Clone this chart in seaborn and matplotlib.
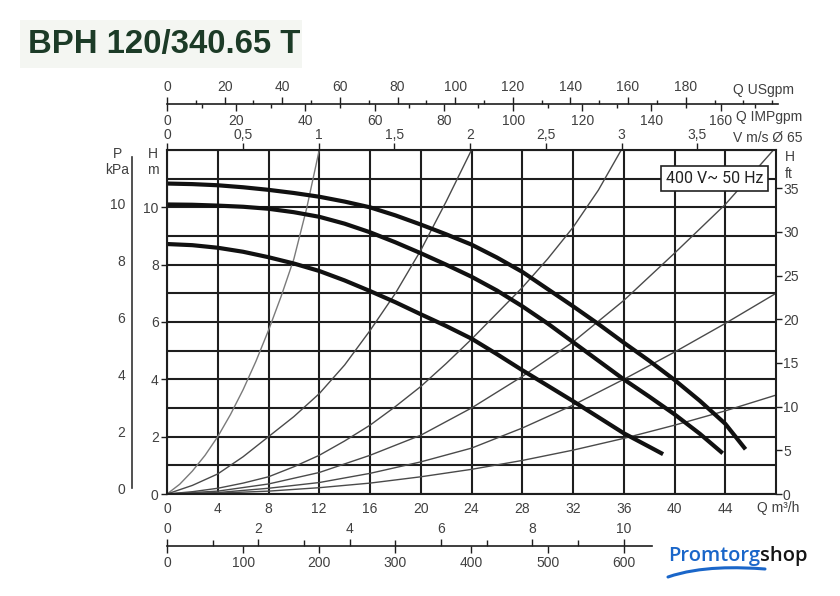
import matplotlib
matplotlib.use("Agg")
import matplotlib.pyplot as plt
import numpy as np
import pandas as pd
import seaborn as sns
from matplotlib import font_manager as fm
from matplotlib.ticker import MultipleLocator, FixedLocator, FuncFormatter
from matplotlib.path import Path
from matplotlib.patches import PathPatch, Rectangle

# ---------------- data ----------------
# pump curves, Q in m3/h, H in m
q_max = [0, 2, 4, 6, 8, 10, 12, 14, 16, 18, 20, 22, 24, 26, 28, 30, 32, 34, 36, 38, 40, 42, 44, 45.6]
h_max = [10.83, 10.81, 10.77, 10.7, 10.61, 10.5, 10.37, 10.2, 10.0, 9.72, 9.4, 9.06, 8.7, 8.25,
         7.75, 7.15, 6.55, 5.93, 5.28, 4.65, 3.98, 3.25, 2.45, 1.56]
q_mid = [0, 2, 4, 6, 8, 10, 12, 14, 16, 18, 20, 22, 24, 26, 28, 30, 32, 34, 36, 38, 40, 42, 43.8]
h_mid = [10.1, 10.09, 10.06, 10.02, 9.95, 9.83, 9.67, 9.43, 9.13, 8.78, 8.4, 8.0, 7.58, 7.1,
         6.55, 5.95, 5.3, 4.65, 4.0, 3.4, 2.78, 2.1, 1.42]
q_min = [0, 2, 4, 6, 8, 10, 12, 14, 16, 18, 20, 22, 24, 26, 28, 30, 32, 34, 36, 38, 39.1]
h_min = [8.72, 8.68, 8.59, 8.45, 8.26, 8.04, 7.78, 7.45, 7.08, 6.69, 6.27, 5.86, 5.42, 4.88,
         4.32, 3.78, 3.24, 2.68, 2.12, 1.65, 1.39]

# system (velocity) curves
sys1_q = [0, 1, 2, 3, 4, 5, 6, 7, 8, 9, 10, 11, 12]
sys1_h = [0, 0.34, 0.8, 1.35, 2.0, 2.77, 3.64, 4.62, 5.71, 6.9, 8.2, 9.95, 12.0]
sys2_q = [0, 2, 4, 6, 8, 10, 12, 14, 16, 18, 20, 22, 24]
sys2_h = [0, 0.3, 0.7, 1.3, 2.0, 2.7, 3.5, 4.5, 5.7, 7.0, 8.5, 10.2, 12.0]
sys3_q = [0, 2, 4, 6, 8, 10, 12, 14, 16, 18, 20, 22, 24, 26, 28, 30, 32, 34, 35.8]
sys3_h = [0, 0.08, 0.2, 0.38, 0.6, 0.95, 1.35, 1.85, 2.4, 3.05, 3.75, 4.55, 5.4, 6.3, 7.2,
          8.2, 9.3, 10.6, 12.0]
sys4_q = [0, 4, 8, 12, 16, 20, 24, 28, 32, 36, 40, 44, 47.8]
sys4_h = [0, 0.1, 0.35, 0.75, 1.35, 2.05, 3.0, 4.1, 5.3, 6.75, 8.4, 10.1, 12.0]
sys5_q = [0, 4, 8, 12, 16, 20, 24, 28, 32, 36, 40, 44, 48]
sys5_h = [0, 0.05, 0.2, 0.4, 0.72, 1.12, 1.6, 2.3, 3.1, 4.0, 4.95, 5.95, 7.0]
sys6_q = [0, 4, 8, 12, 16, 20, 24, 28, 32, 36, 40, 44, 48]
sys6_h = [0, 0.03, 0.1, 0.22, 0.38, 0.6, 0.86, 1.17, 1.53, 1.94, 2.4, 2.9, 3.45]

# axis ticks / labels
q_ticks = [0, 4, 8, 12, 16, 20, 24, 28, 32, 36, 40, 44]
h_ticks = [0, 2, 4, 6, 8, 10]
ft_ticks = [0, 5, 10, 15, 20, 25, 30, 35]
p_ticks = [0, 2, 4, 6, 8, 10]
v_ticks = [0, 0.5, 1, 1.5, 2, 2.5, 3, 3.5]
us_ticks = [0, 20, 40, 60, 80, 100, 120, 140, 160, 180]
imp_ticks = [0, 20, 40, 60, 80, 100, 120, 140, 160]
ls_ticks = [0, 2, 4, 6, 8, 10]
lmin_ticks = [0, 100, 200, 300, 400, 500, 600]
title = "BPH 120/340.65 T"
legend_text = "400 V~ 50 Hz"

# unit conversions
M3H_PER_MS = 11.946      # m3/h per m/s for DN65
USGPM = 4.4029           # USgpm per m3/h
IMPGPM = 3.6662          # IMPgpm per m3/h
LS = 1 / 3.6             # l/s per m3/h
LMIN = 1000 / 60         # l/min per m3/h
FT = 3.2808              # ft per m

# ---------------- styling ----------------
sns.set_style("white")
plt.rcParams['font.family'] = ['Liberation Sans', 'DejaVu Sans']
TXT = '#404040'
GRID = '#1e1e1e'

W, H = 840, 596
fig = plt.figure(figsize=(8.4, 5.96), dpi=100)
fig.patch.set_facecolor('white')
renderer = fig.canvas.get_renderer()


def fx(px):
    return px / W


def fy(py):
    return 1 - py / H


# pick the narrowest available font for condensed texts
names = {f.name for f in fm.fontManager.ttflist}
cands = []
if 'Liberation Sans Narrow' in names:
    cands.append(dict(family='Liberation Sans Narrow'))
if any(f.name == 'DejaVu Sans' and f.stretch in ('condensed', 'semi-condensed')
       for f in fm.fontManager.ttflist):
    cands.append(dict(family='DejaVu Sans', fontstretch='condensed'))
cands += [dict(family='Roboto'), dict(family='Liberation Sans')]


def width_of(s, size, weight, props):
    t = fig.text(0, 0, s, fontsize=size, fontweight=weight, **props)
    w = t.get_window_extent(renderer).width
    t.remove()
    return w


def fit_font(s, target_w, weight, max_size):
    best = None
    for c in cands:
        w = width_of(s, max_size, weight, c)
        if best is None or w < best[0]:
            best = (w, c)
    w, c = best
    size = max_size * min(1.0, target_w / w)
    return c, size


X0, X1, Y0, Y1 = 167, 776, 150, 494
ax = fig.add_axes([fx(X0), fy(Y1), (X1 - X0) / W, (Y1 - Y0) / H])
ax.set_xlim(0, 48)
ax.set_ylim(0, 12)

# grid
ax.xaxis.set_major_locator(FixedLocator(q_ticks))
ax.yaxis.set_major_locator(FixedLocator(h_ticks))
ax.yaxis.set_minor_locator(MultipleLocator(1))
ax.grid(True, which='both', axis='y', color=GRID, lw=1.5)
ax.grid(True, which='major', axis='x', color=GRID, lw=1.5)
ax.set_axisbelow(True)
for s in ax.spines.values():
    s.set_color(GRID)
    s.set_linewidth(1.5)

ax.tick_params(axis='x', which='major', length=0, pad=6, labelsize=10, labelcolor=TXT)
ax.tick_params(axis='y', which='major', length=4, width=1, color=GRID, pad=2,
               labelsize=10, labelcolor=TXT)
ax.tick_params(axis='y', which='minor', length=0)

# system curves
sys_frames = []
for name, q, h in [('s1', sys1_q, sys1_h), ('s2', sys2_q, sys2_h), ('s3', sys3_q, sys3_h),
                   ('s4', sys4_q, sys4_h), ('s5', sys5_q, sys5_h), ('s6', sys6_q, sys6_h)]:
    sys_frames.append(pd.DataFrame({'Q': q, 'H': h, 'curve': name}))
df_sys = pd.concat(sys_frames, ignore_index=True)
sns.lineplot(data=df_sys, x='Q', y='H', hue='curve',
             palette=['#7a7a7a', '#4a4a4a', '#4a4a4a', '#4a4a4a', '#4a4a4a', '#4a4a4a'],
             estimator=None, sort=False, lw=1.0, legend=False, ax=ax)

# pump curves
df_pump = pd.concat([
    pd.DataFrame({'Q': q_max, 'H': h_max, 'curve': 'max'}),
    pd.DataFrame({'Q': q_mid, 'H': h_mid, 'curve': 'mid'}),
    pd.DataFrame({'Q': q_min, 'H': h_min, 'curve': 'min'}),
], ignore_index=True)
sns.lineplot(data=df_pump, x='Q', y='H', units='curve', estimator=None, sort=False,
             color='#111111', lw=3.0, legend=False, ax=ax)
ax.set_xlabel('')
ax.set_ylabel('')
for ln in ax.lines[-3:]:
    ln.set_solid_capstyle('butt')
    ln.set_solid_joinstyle('round')

# legend box
lg_props, lg_size = fit_font(legend_text, 97, 'normal', 13)
ax.text(43.15, 11.0, legend_text, ha='center', va='center', fontsize=lg_size,
        color='#222222', zorder=6,
        bbox=dict(boxstyle='square,pad=0.32', fc='white', ec='#222222', lw=1.2), **lg_props)

# right ft axis
axr = ax.twinx()
axr.set_ylim(0, 12 * FT)
axr.yaxis.set_major_locator(FixedLocator(ft_ticks))
axr.tick_params(axis='y', length=4, width=1, color=GRID, pad=1, labelsize=10, labelcolor=TXT)
for s in axr.spines.values():
    s.set_visible(False)
axr.grid(False)

# top velocity axis (on top spine)
secv = ax.secondary_xaxis('top', functions=(lambda q: q / M3H_PER_MS, lambda v: v * M3H_PER_MS))
secv.xaxis.set_major_locator(FixedLocator(v_ticks))
secv.xaxis.set_major_formatter(FuncFormatter(lambda v, p: f"{v:g}".replace('.', ',')))
secv.tick_params(axis='x', length=5, width=1, color=GRID, pad=1, labelsize=10, labelcolor=TXT)
secv.spines['top'].set_visible(False)


def scale_axis(x_px_end, y_px, qmax, factor, side, major, minor=None, spine=False,
               minor_len=3):
    a = fig.add_axes([fx(X0), fy(y_px), (x_px_end - X0) / W, 1e-6])
    a.set_xlim(0, qmax * factor)
    a.set_facecolor('none')
    for k, s in a.spines.items():
        s.set_visible(spine and k == side)
        s.set_color(GRID)
        s.set_linewidth(1.2)
    a.yaxis.set_visible(False)
    if side == 'top':
        a.xaxis.tick_top()
    else:
        a.xaxis.tick_bottom()
    a.set_xticks(major)
    if minor is not None:
        a.xaxis.set_minor_locator(MultipleLocator(minor))
    a.tick_params(axis='x', which='major', direction='out', length=5, width=1, color=GRID,
                  pad=2, labelsize=10, labelcolor=TXT)
    a.tick_params(axis='x', which='minor', direction='out', length=minor_len, width=1,
                  color=GRID)
    return a


q_px = (X1 - X0) / 48.0
q_top_end = (778 - X0) / q_px
scale_axis(778, 104, q_top_end, USGPM, 'top', us_ticks, 10, spine=True)
scale_axis(778, 104, q_top_end, IMPGPM, 'bottom', imp_ticks, 10)

q_bot_end = (652 - X0) / q_px
scale_axis(652, 546, q_bot_end, LS, 'top', ls_ticks, 1, spine=True, minor_len=4)
scale_axis(652, 546, q_bot_end, LMIN, 'bottom', lmin_ticks)

# P (kPa) axis on the far left
ax_p = fig.add_axes([fx(132), fy(Y1), 1e-6, (Y1 - Y0) / H])
ax_p.set_ylim(-0.21, 11.86)
ax_p.set_facecolor('none')
for k, s in ax_p.spines.items():
    s.set_visible(k == 'left')
ax_p.spines['left'].set_bounds(0, 11.6)
ax_p.spines['left'].set_color('#333333')
ax_p.spines['left'].set_linewidth(1.2)
ax_p.xaxis.set_visible(False)
ax_p.set_yticks(p_ticks)
ax_p.yaxis.set_minor_locator(FixedLocator([1, 3, 5, 7, 9, 11]))
ax_p.tick_params(axis='y', which='major', direction='out', length=4, width=1, color='#333333',
                 pad=1, labelsize=10, labelcolor=TXT)
ax_p.tick_params(axis='y', which='minor', direction='out', length=3, width=1, color='#333333')

# axis captions
cap = dict(fontsize=10, color=TXT)
fig.text(fx(118), fy(154), 'P', ha='center', va='center', **cap)
fig.text(fx(117), fy(170), 'kPa', ha='center', va='center', **cap)
fig.text(fx(153), fy(154), 'H', ha='center', va='center', **cap)
fig.text(fx(153), fy(170), 'm', ha='center', va='center', **cap)
fig.text(fx(790), fy(157), 'H', ha='center', va='center', **cap)
fig.text(fx(789), fy(174), 'ft', ha='center', va='center', **cap)
fig.text(fx(778), fy(508), 'Q m³/h', ha='center', va='center', **cap)
fig.text(fx(733), fy(90), 'Q USgpm', ha='left', va='center', **cap)
fig.text(fx(736), fy(117), 'Q IMPgpm', ha='left', va='center', **cap)
fig.text(fx(733), fy(138), 'V m/s Ø 65', ha='left', va='center', **cap)

# title
fig.patches.append(Rectangle((fx(20), fy(68)), fx(282), 48 / H, transform=fig.transFigure,
                             facecolor='#f4f6f2', edgecolor='none', zorder=0))
tt_props, tt_size = fit_font(title, 272, 'bold', 30)
fig.text(fx(28), fy(44), title, ha='left', va='center', fontsize=tt_size, fontweight='bold',
         color='#1c3b27', **tt_props)

# logo
t1 = fig.text(fx(668), fy(556), 'Promtorg', ha='left', va='center', fontsize=14.5,
              fontweight='semibold', family=['Open Sans', 'Liberation Sans'], color='#1a66c9')
bb = t1.get_window_extent(renderer)
fig.text(bb.x1 / W, fy(556), 'shop', ha='left', va='center', fontsize=14.5,
         fontweight='semibold', family=['Open Sans', 'Liberation Sans'], color='#151515')
verts = [(fx(668), fy(577)), (fx(700), fy(566)), (fx(738), fy(567)), (fx(765), fy(569))]
sw = PathPatch(Path(verts, [Path.MOVETO, Path.CURVE4, Path.CURVE4, Path.CURVE4]),
               transform=fig.transFigure, fc='none', ec='#1a66c9', lw=2.2, capstyle='round')
fig.patches.append(sw)

fig.savefig('out.png', dpi=100)
